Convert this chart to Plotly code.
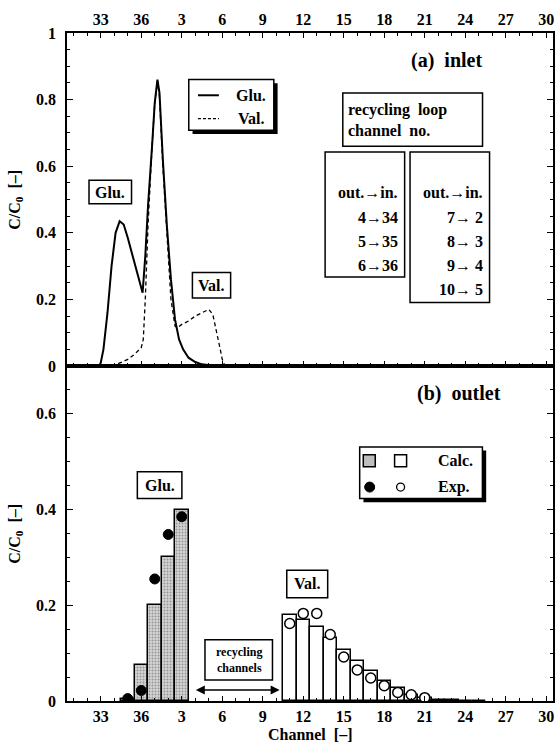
import plotly.graph_objects as go

# ---------------- data ----------------
# axis runs around the 36-channel ring: 31..36, 1..30
tick_channels = [33, 36, 3, 6, 9, 12, 15, 18, 21, 24, 27, 30]

def pos(ch):
    return ch if ch >= 31 else ch + 36

# (a) inlet profiles, position along axis (channel ring position), C/C0
glu_in_pos = [32.9, 33.0, 33.2, 33.5, 33.8, 34.1, 34.4, 34.7, 35.0, 35.3, 35.6, 35.9, 36.1,
              36.3, 36.5, 36.8, 37.0, 37.2, 37.35, 37.6, 37.9, 38.2, 38.5, 38.8, 39.1, 39.5,
              40.0, 40.5, 41.0, 41.5]
glu_in_val = [0.0, 0.01, 0.05, 0.16, 0.30, 0.40, 0.435, 0.425, 0.385, 0.34, 0.30, 0.25, 0.22,
              0.33, 0.48, 0.66, 0.79, 0.86, 0.82, 0.62, 0.42, 0.26, 0.14, 0.08, 0.05, 0.025,
              0.012, 0.005, 0.002, 0.0]
val_in_pos = [33.8, 34.2, 34.6, 35.0, 35.5, 36.0, 36.15, 36.3, 36.5, 36.8, 37.0, 37.2, 37.35,
              37.6, 37.9, 38.2, 38.5, 38.7, 39.0, 39.5, 40.0, 40.5, 41.0, 41.3, 41.5, 41.8,
              42.0, 42.2]
val_in_val = [0.0, 0.005, 0.012, 0.02, 0.035, 0.055, 0.08, 0.2, 0.42, 0.66, 0.79, 0.855, 0.81,
              0.6, 0.38, 0.2, 0.12, 0.115, 0.125, 0.135, 0.15, 0.16, 0.17, 0.155, 0.12, 0.06,
              0.02, 0.0]

# (b) outlet
glu_channels = [35, 36, 1, 2, 3]
glu_calc = [0.005, 0.075, 0.20, 0.30, 0.40]
glu_exp = [0.005, 0.022, 0.255, 0.348, 0.385]

val_channels = [11, 12, 13, 14, 15, 16, 17, 18, 19, 20, 21, 22, 23, 24, 25]
val_calc = [0.179, 0.170, 0.154, 0.132, 0.107, 0.084, 0.062, 0.041, 0.027, 0.013, 0.006,
            0.003, 0.002, 0.001, 0.0005]
val_exp_channels = [11, 12, 13, 14, 15, 16, 17, 18, 19, 20, 21]
val_exp = [0.162, 0.183, 0.183, 0.139, 0.092, 0.065, 0.048, 0.032, 0.018, 0.013, 0.007]

loop_left = ["out.→in.", "4→34", "5→35", "6→36"]
loop_right = ["out.→in.", "7→ 2", "8→ 3", "9→ 4", "10→ 5"]

# ---------------- figure ----------------
FONT = "Liberation Serif"
fig = go.Figure()

fig.add_trace(go.Scatter(x=glu_in_pos, y=glu_in_val, mode="lines",
                         line=dict(color="black", width=2), xaxis="x", yaxis="y",
                         showlegend=False))
fig.add_trace(go.Scatter(x=val_in_pos, y=val_in_val, mode="lines",
                         line=dict(color="black", width=1.3, dash="4px,3px"),
                         xaxis="x", yaxis="y", showlegend=False))

fig.add_trace(go.Bar(x=[pos(c) for c in glu_channels], y=glu_calc, width=1,
                     marker=dict(color="#d4d4d4", line=dict(color="black", width=1.5),
                                 pattern=dict(shape=".", fgcolor="#555555", bgcolor="#d4d4d4",
                                              size=3, solidity=0.35)),
                     xaxis="x2", yaxis="y2", showlegend=False))
fig.add_trace(go.Bar(x=[pos(c) for c in val_channels], y=val_calc, width=1,
                     marker=dict(color="white", line=dict(color="black", width=1.5)),
                     xaxis="x2", yaxis="y2", showlegend=False))
fig.add_trace(go.Scatter(x=[pos(c) for c in glu_channels], y=glu_exp, mode="markers",
                         marker=dict(color="black", size=10, line=dict(color="black", width=1)),
                         xaxis="x2", yaxis="y2", showlegend=False))
fig.add_trace(go.Scatter(x=[pos(c) for c in val_exp_channels], y=val_exp, mode="markers",
                         marker=dict(color="white", size=10, line=dict(color="black", width=1.5)),
                         xaxis="x2", yaxis="y2", showlegend=False))

tickvals = [pos(c) for c in tick_channels]
ticktext = [str(c) for c in tick_channels]
minor_vals = list(range(31, 67))

xcommon = dict(range=[30.5, 66.5], tickmode="array", tickvals=tickvals, ticktext=ticktext,
               ticks="inside", ticklen=5, tickwidth=1.2, tickcolor="black",
               minor=dict(tickmode="array", tickvals=minor_vals, ticks="inside", ticklen=3,
                          tickwidth=1, tickcolor="black"),
               showline=True, linecolor="black", linewidth=1.5, showgrid=False,
               zeroline=False, tickfont=dict(family=FONT, size=16, weight="bold"),
               ticklabelstandoff=0)
ycommon = dict(ticks="inside", ticklen=6, tickwidth=1.2, tickcolor="black",
               minor=dict(dtick=0.05, ticks="inside", ticklen=3, tickwidth=1, tickcolor="black"),
               showline=True, linecolor="black", linewidth=1.5, showgrid=False,
               zeroline=False, mirror="ticks",
               tickfont=dict(family=FONT, size=16, weight="bold"), ticklabelstandoff=6)

dom_split = 335 / 668

fig.update_layout(
    width=559, height=745,
    margin=dict(l=67, r=4, t=33, b=44),
    paper_bgcolor="white", plot_bgcolor="white",
    font=dict(family=FONT, size=15, color="black", weight="bold"),
    barmode="overlay", bargap=0,
    xaxis=dict(**xcommon, anchor="y", side="top", mirror="ticks"),
    yaxis=dict(**ycommon, range=[0, 1], dtick=0.2, domain=[dom_split, 1], anchor="x",
               tickvals=[0, 0.2, 0.4, 0.6, 0.8, 1], ticktext=["0", "0.2", "0.4", "0.6", "0.8", "1"]),
    xaxis2=dict(**xcommon, anchor="y2", side="bottom", matches="x", mirror=True),
    yaxis2=dict(**ycommon, range=[0, 0.7], domain=[0, dom_split], anchor="x2",
                tickvals=[0, 0.2, 0.4, 0.6], ticktext=["0", "0.2", "0.4", "0.6"]),
)

shapes = []
ann = []

def box(x0, x1, y0, y1, xr, yr, width=1.5):
    shapes.append(dict(type="rect", xref=xr, yref=yr, x0=x0, x1=x1, y0=y0, y1=y1,
                       line=dict(color="black", width=width), fillcolor="white", layer="above"))

def shadow_box(x0, x1, y0, y1, xr, yr, dx, dy):
    shapes.append(dict(type="rect", xref=xr, yref=yr, x0=x0 + dx, x1=x1 + dx, y0=y0 - dy, y1=y1 - dy,
                       line=dict(color="black", width=0), fillcolor="black", layer="above"))
    box(x0, x1, y0, y1, xr, yr)

def text(x, y, s, xr, yr, size=15, xanchor="center", align="center"):
    ann.append(dict(x=x, y=y, xref=xr, yref=yr, text=s, showarrow=False, xanchor=xanchor,
                    yanchor="middle", align=align,
                    font=dict(family=FONT, size=size, color="black", weight="bold")))

# ---- panel (a) ----
text(58.6, 0.917, "(a)  inlet", "x", "y", size=20)
shadow_box(39.52, 45.82, 0.708, 0.860, "x", "y", 0.28, 0.011)
shapes.append(dict(type="line", xref="x", yref="y", x0=40.2, x1=41.75, y0=0.813, y1=0.813,
                   line=dict(color="black", width=2), layer="above"))
shapes.append(dict(type="line", xref="x", yref="y", x0=40.2, x1=41.75, y0=0.743, y1=0.743,
                   line=dict(color="black", width=1.2, dash="3px,2px"), layer="above"))
text(42.9, 0.813, "Glu.", "x", "y", size=16, xanchor="left")
text(43.0, 0.743, "Val.", "x", "y", size=16, xanchor="left")

box(50.93, 61.28, 0.660, 0.820, "x", "y")
text(51.15, 0.738, "recycling  loop<br>channel  no.", "x", "y", size=16, xanchor="left",
     align="left")
box(49.62, 55.51, 0.267, 0.643, "x", "y")
box(55.91, 61.80, 0.191, 0.643, "x", "y")
for i, s in enumerate(loop_left):
    text(55.2, 0.520 - 0.0728 * i, s, "x", "y", size=16, xanchor="right")
for i, s in enumerate(loop_right):
    text(61.45, 0.520 - 0.0728 * i, s, "x", "y", size=16, xanchor="right")

box(32.13, 35.28, 0.487, 0.558, "x", "y")
text(33.7, 0.522, "Glu.", "x", "y", size=16)
box(39.79, 42.62, 0.204, 0.281, "x", "y")
text(41.2, 0.243, "Val.", "x", "y", size=16)

# ---- panel (b) ----
text(59.55, 0.643, "(b)  outlet", "x2", "y2", size=20)
shadow_box(52.18, 61.27, 0.423, 0.531, "x2", "y2", 0.28, 0.0075)
shapes.append(dict(type="rect", xref="x2", yref="y2", xsizemode="pixel", ysizemode="pixel",
                   xanchor=52.89, yanchor=0.502, x0=-6, x1=6, y0=-6, y1=6,
                   line=dict(color="black", width=1.5), fillcolor="#bdbdbd", layer="above"))
shapes.append(dict(type="rect", xref="x2", yref="y2", xsizemode="pixel", ysizemode="pixel",
                   xanchor=55.21, yanchor=0.502, x0=-6, x1=6, y0=-6, y1=6,
                   line=dict(color="black", width=1.5), fillcolor="white", layer="above"))
shapes.append(dict(type="circle", xref="x2", yref="y2", xsizemode="pixel", ysizemode="pixel",
                   xanchor=52.92, yanchor=0.447, x0=-5, x1=5, y0=-5, y1=5,
                   line=dict(color="black", width=1), fillcolor="black", layer="above"))
shapes.append(dict(type="circle", xref="x2", yref="y2", xsizemode="pixel", ysizemode="pixel",
                   xanchor=55.21, yanchor=0.447, x0=-4, x1=4, y0=-4, y1=4,
                   line=dict(color="black", width=1.3), fillcolor="white", layer="above"))
text(57.8, 0.502, "Calc.", "x2", "y2", size=16, xanchor="left")
text(57.8, 0.447, "Exp.", "x2", "y2", size=16, xanchor="left")

box(35.71, 39.01, 0.423, 0.479, "x2", "y2")
text(37.36, 0.451, "Glu.", "x2", "y2", size=16)
box(46.78, 49.81, 0.216, 0.273, "x2", "y2")
text(48.3, 0.245, "Val.", "x2", "y2", size=16)
box(40.72, 45.72, 0.044, 0.128, "x2", "y2")
text(43.22, 0.086, "recycling<br>channels", "x2", "y2", size=12)
ann.append(dict(x=46.25, y=0.023, ax=39.93, ay=0.023, xref="x2", yref="y2", axref="x2",
                ayref="y2", showarrow=True, arrowside="end+start", arrowhead=2,
                arrowsize=1.2, arrowwidth=1.5, arrowcolor="black", text=""))

# axis titles
ytitle = "C/C<sub>0</sub>  [–]"
ann.append(dict(x=-52 / 488, y=(1 + dom_split) / 2, xref="paper", yref="paper", text=ytitle,
                textangle=-90, showarrow=False, xanchor="center", yanchor="middle",
                font=dict(family=FONT, size=16, weight="bold")))
ann.append(dict(x=-52 / 488, y=dom_split / 2, xref="paper", yref="paper", text=ytitle,
                textangle=-90, showarrow=False, xanchor="center", yanchor="middle",
                font=dict(family=FONT, size=16, weight="bold")))
ann.append(dict(x=0.5, y=-34 / 668, xref="paper", yref="paper", text="Channel  [–]",
                showarrow=False, xanchor="center", yanchor="middle",
                font=dict(family=FONT, size=16, weight="bold")))

fig.update_layout(shapes=shapes, annotations=ann)
fig.write_html("out.html")
